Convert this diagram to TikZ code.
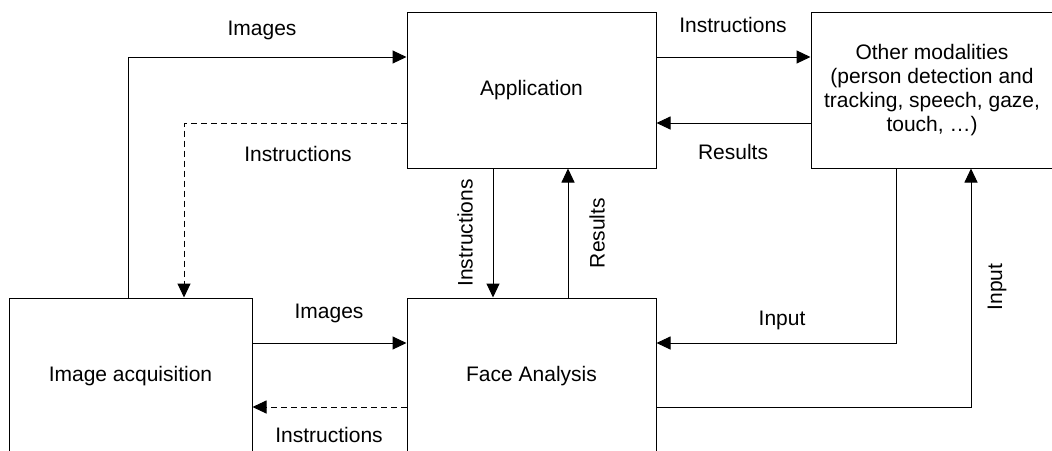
\documentclass[tikz,border=0pt]{standalone}
\usepackage{fontspec}
\setmainfont{Liberation Sans}
\usetikzlibrary{arrows.meta}

\begin{document}
\begin{tikzpicture}[x=0.5pt,y=-0.5pt,
  box/.style={draw, line width=0.5pt, inner sep=0pt, minimum width=#1, minimum height=78pt, align=center},
  lbl/.style={inner sep=0pt, font=\fontsize{10.5}{12}\selectfont},
  flow/.style={line width=0.5pt, -{Triangle[length=7pt,width=6.5pt]}},
  back/.style={flow, dash pattern=on 3pt off 2pt}]
\useasboundingbox (0,0) rectangle (1052,450);
\clip (0,0) rectangle (1052,450);

\node (app) at (531.5,90) [box=124.5pt, font=\fontsize{10.5}{12}\selectfont] {Application};
\node (other) at (932,90) [box=121pt, font=\fontsize{10.5}{12}\selectfont]
  {Other modalities\\(person detection and\\tracking, speech, gaze,\\touch, \ldots)};
\node (acq) at (130.5,376) [box=121.5pt, font=\fontsize{10.5}{12}\selectfont] {Image acquisition};
\node (face) at (531.5,376) [box=124.5pt, font=\fontsize{10.5}{12}\selectfont] {Face Analysis};

% turning points of the long connectors
\coordinate (c1) at (128,57);
\coordinate (c2) at (184,123);
\coordinate (c3) at (896,343);
\coordinate (c4) at (971,407);

\node (l1) at (262,30) [lbl] {Images};
\node (l2) at (298,154) [lbl] {Instructions};
\node (l3) at (329,313) [lbl] {Images};
\node (l4) at (329,435) [lbl] {Instructions};
\node (l5) at (465,233) [lbl, rotate=90] {Instructions};
\node (l6) at (597,233) [lbl, rotate=90] {Results};
\node (l7) at (733,25) [lbl] {Instructions};
\node (l8) at (733,152) [lbl] {Results};
\node (l9) at (782,320) [lbl] {Input};
\node (l10) at (997,287) [lbl, rotate=90] {Input};

\draw[flow]
(acq.north -| c1) -- (c1) -- (app.west |- c1);
\draw[back]
(app.west |- c2) -- (c2) -- (acq.north -| c2);
\draw[flow]
(acq.east |- 0,343) -- (face.west |- 0,343);
\draw[back]
(face.west |- 0,407) -- (acq.east |- 0,407);
\draw[flow]
(app.south -| 493,0) -- (face.north -| 493,0);
\draw[flow]
(face.north -| 568,0) -- (app.south -| 568,0);
\draw[flow]
(app.east |- 0,57) -- (other.west |- 0,57);
\draw[flow]
(other.west |- 0,123) -- (app.east |- 0,123);
\draw[flow]
(other.south -| c3) -- (c3) -- (face.east |- c3);
\draw[flow]
(face.east |- c4) -- (c4) -- (other.south -| c4);
\end{tikzpicture}
\end{document}
